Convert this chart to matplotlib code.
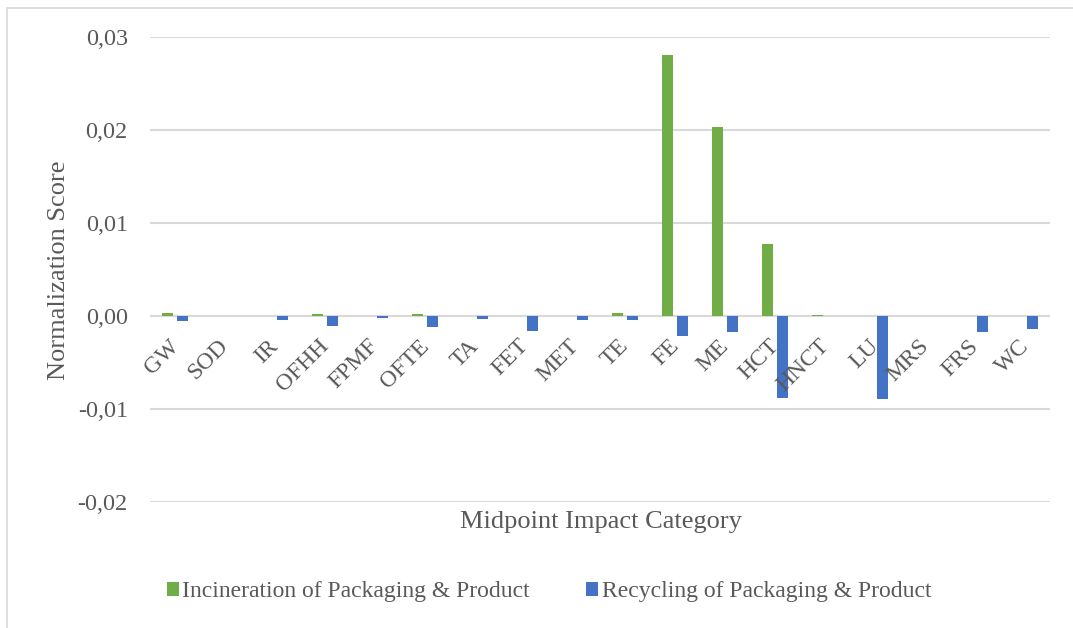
import matplotlib.pyplot as plt
from matplotlib.patches import Rectangle
import numpy as np

categories = ["GW", "SOD", "IR", "OFHH", "FPMF", "OFTE", "TA", "FET", "MET",
              "TE", "FE", "ME", "HCT", "HNCT", "LU", "MRS", "FRS", "WC"]
incineration = [0.0003, 0.00005, 0.0, 0.0002, 0.00002, 0.0002, 0.0, 0.0, 0.0,
                0.0003, 0.0281, 0.0203, 0.0077, 0.0001, 0.0, 0.0, 0.0, 0.0]
recycling = [-0.0005, -0.00005, -0.0004, -0.0011, -0.0002, -0.0012, -0.0003, -0.0016, -0.0004,
             -0.0004, -0.0022, -0.0017, -0.0088, -0.00005, -0.0089, 0.0, -0.0017, -0.0014]
yticks = [-0.02, -0.01, 0.0, 0.01, 0.02, 0.03]

GREEN = "#70AD47"
BLUE = "#4472C4"
GREY = "#595959"

plt.rcParams["font.family"] = "Liberation Serif"

W, H = 1073, 628
fig = plt.figure(figsize=(W / 100, H / 100), dpi=100)
ax = fig.add_axes([150 / W, 1 - 502 / H, 900 / W, 465 / H])

# chart frame
fig.patches.append(Rectangle((7 / W, -0.1), 1.2, 1 - 8 / H + 0.1, transform=fig.transFigure,
                             fill=False, edgecolor="#d9d9d9", linewidth=1.2))

x = np.arange(len(categories))
bw = 0.22
gap = 0.08
ax.bar(x - (bw + gap) / 2, incineration, bw, color=GREEN, zorder=3,
       label="Incineration of Packaging & Product")
ax.bar(x + (bw + gap) / 2, recycling, bw, color=BLUE, zorder=3,
       label="Recycling of Packaging & Product")

ax.set_xlim(-0.5, len(categories) - 0.5)
ax.set_ylim(-0.02, 0.03)
ax.set_yticks(yticks)
ax.set_yticklabels([f"{v:.2f}".replace(".", ",") for v in yticks], fontsize=17.5, color=GREY)
ax.tick_params(axis="y", length=0, pad=16)
ax.set_xticks([])
ax.grid(axis="y", color="#d9d9d9", linewidth=1.5, zorder=0)
ax.axhline(0, color="#d9d9d9", linewidth=1.5, zorder=2)
for s in ax.spines.values():
    s.set_visible(False)

# category labels hang off the zero line
for i, c in enumerate(categories):
    ax.annotate(c, xy=(i, 0), xytext=(-5, -14), textcoords="offset points",
                ha="right", va="top", rotation=45, rotation_mode="anchor",
                fontsize=17, color=GREY)

fig.text(59 / W, 1 - 270 / H, "Normalization Score", rotation=90, ha="center", va="center",
         fontsize=19, color=GREY)
fig.text(601 / W, 1 - 522 / H, "Midpoint Impact Category", ha="center", va="center",
         fontsize=19, color=GREY)

fig.legend(loc="center", bbox_to_anchor=(549 / W, 1 - 592 / H), ncol=2, frameon=False,
           fontsize=17, handlelength=0.5, handleheight=0.5, handletextpad=0.15,
           columnspacing=2.4, labelcolor=GREY)

fig.savefig("out.png", dpi=100)
